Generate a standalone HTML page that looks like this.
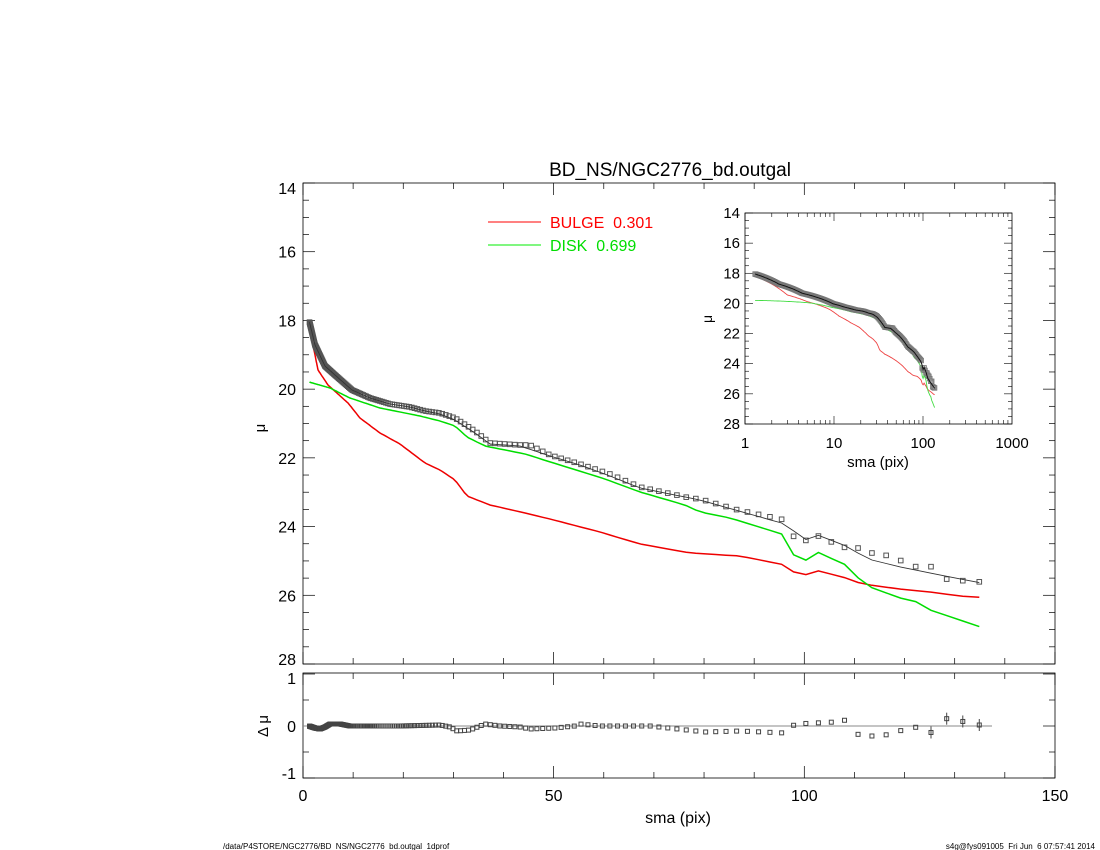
<!DOCTYPE html><html><head><meta charset="utf-8"><style>body{margin:0;background:#fff}svg{display:block}text{font-family:"Liberation Sans",sans-serif}</style></head><body>
<svg id="s" width="1100" height="850" xmlns="http://www.w3.org/2000/svg">
<text x="670" y="176" font-size="19" text-anchor="middle">BD_NS/NGC2776_bd.outgal</text>
<line x1="488" y1="222" x2="541" y2="222" stroke="#f00" stroke-width="1"/>
<text x="550" y="228" font-size="16" fill="#f00" xml:space="preserve">BULGE  0.301</text>
<line x1="488" y1="245" x2="541" y2="245" stroke="#0e0" stroke-width="1"/>
<text x="550" y="251" font-size="16" fill="#0d0" xml:space="preserve">DISK  0.699</text>
<text x="678" y="823" font-size="16" text-anchor="middle">sma (pix)</text>
<text x="223" y="849" font-size="8">/data/P4STORE/NGC2776/BD_NS/NGC2776_bd.outgal_1dprof</text>
<text x="1095" y="849" font-size="8" text-anchor="end" xml:space="preserve">s4g@fys091005  Fri Jun  6 07:57:41 2014</text>
<text x="265" y="428" font-size="15" transform="rotate(-90 265 428)" text-anchor="middle">μ</text>
<text x="268" y="726" font-size="15" transform="rotate(-90 268 726)" text-anchor="middle">Δ μ</text>
<text x="878" y="467" font-size="15" text-anchor="middle">sma (pix)</text>
<text x="712" y="319" font-size="14" transform="rotate(-90 712 319)" text-anchor="middle">μ</text>
<g id="g"></g>
</svg>
<script>
const g=document.getElementById('g');let h='';
function interp(k,x){if(x<=k[0][0])return k[0][1];for(let i=1;i<k.length;i++)if(x<=k[i][0]){const a=k[i-1],b=k[i];return a[1]+(b[1]-a[1])*(x-a[0])/(b[0]-a[0]);}return k[k.length-1][1];}
const T=[[309,320],[315,345],[325,366],[335,375],[352,390],[370,398],[390,404],[410,407],[425,411],[440,413],[455,418],[475,431],[490,443],[520,445],[530,445],[550,455],[580,464],[610,474],[640,487],[690,498],[700,499],[738,510],[785,520],[795,539],[805,541],[815,534],[825,540],[835,543],[846,548],[856,547],[868,553],[879,553],[891,557],[902,561],[914,567],[927,564],[939,572],[952,584],[965,580],[978,582],[992,580]];
const M=[[309,320],[315,345],[325,366],[335,375],[352,390],[370,398],[390,404],[410,407],[425,411],[440,414],[455,420],[475,433],[490,444],[520,446],[550,456],[580,465],[610,476],[640,488],[700,500],[785,524],[805,540],[815,534],[846,546],[868,559],[900,567],[950,577],[992,585]];
const G=[[309,382],[330,388],[350,398],[380,408],[420,416],[440,421],[455,426],[467,437],[485,446],[525,454],[560,465],[605,479],[640,492],[685,505],[700,512],[730,518],[785,535],[795,558],[805,561],[815,551],[846,565],[862,582],[870,587],[900,598],[913,600],[930,610],[960,620],[992,631]];
const Rd=[[309,325],[318,370],[328,385],[348,403],[360,418],[380,433],[400,444],[425,463],[440,470],[455,480],[467,496],[490,505],[525,513],[550,519],[600,532],[640,544],[690,553],[740,556],[785,565],[795,573],[805,575],[815,570],[846,578],[862,584],[900,589],[930,592],[960,596],[992,598]];
const Res=[[309,726],[315,728],[320,729],[325,727],[330,724],[340,724],[350,726],[400,726],[440,725],[450,727],[457,731],[470,730],[485,724],[500,726],[520,727],[530,729],[555,728],[575,726],[580,724],[600,726],[650,726],[705,732],[740,731],[785,733],[795,724],[815,723],[835,722],[846,720],[856,734],[868,736],[879,736],[891,734],[914,726],[927,736],[952,714],[965,723],[978,724],[992,735]];
const xs=[];for(let s=1.3;s<=137.5;s*=1.025)xs.push(303+s*5.013);
const Y0=183,YS=(664-183)/14;
function axes(x0,y0,x1,y1){h+=`<rect x="${x0}" y="${y0}" width="${x1-x0}" height="${y1-y0}" fill="none" stroke="#000" stroke-width="0.8"/>`;}
axes(303,183,1055,664);axes(303,673,1055,778);
for(let v=0;v<=150;v+=10){const x=303+v*5.013,L=v%50?6:12;for(const[a,b]of[[183,1],[664,-1],[673,1],[778,-1]])h+=`<line x1="${x}" y1="${a}" x2="${x}" y2="${a+b*L}" stroke="#000" stroke-width="0.7"/>`;if(v%50==0)h+=`<text x="${x}" y="801" font-size="16" text-anchor="middle">${v}</text>`;}
for(let m=14;m<=28;m+=0.5){const y=Y0+(m-14)*YS,L=m%2?6:12;h+=`<line x1="303" y1="${y}" x2="${303+L}" y2="${y}" stroke="#000" stroke-width="0.7"/><line x1="1055" y1="${y}" x2="${1055-L}" y2="${y}" stroke="#000" stroke-width="0.7"/>`;if(m%2==0){const ly=m==28?y+1:m==14?y+11:y+6;h+=`<text x="296" y="${ly}" font-size="16" text-anchor="end">${m}</text>`;}}
const RY=r=>726-r*52;
for(let r=-1;r<=1;r+=0.5){const y=RY(r),L=r%1?6:12;h+=`<line x1="303" y1="${y}" x2="${303+L}" y2="${y}" stroke="#000" stroke-width="0.7"/><line x1="1055" y1="${y}" x2="${1055-L}" y2="${y}" stroke="#000" stroke-width="0.7"/>`;if(r%1==0){const ly=r==1?y+10:r==-1?y+1:y+6;h+=`<text x="296" y="${ly}" font-size="16" text-anchor="end">${r}</text>`;}}
h+=`<line x1="303" y1="726" x2="992" y2="726" stroke="#888" stroke-width="1"/>`;
function ppath(k,col,w){let d='';xs.forEach((x,i)=>{d+=(i?'L':'M')+x.toFixed(1)+','+interp(k,x).toFixed(1);});h+=`<path d="${d}" fill="none" stroke="${col}" stroke-width="${w}"/>`;}
ppath(Rd,'#e00',1.5);ppath(G,'#0d0',1.5);
xs.forEach((x,i)=>{const y=interp(T,x);h+=`<rect x="${x-2.3}" y="${y-2.3}" width="4.6" height="4.6" fill="none" stroke="#555" stroke-width="1"/>`;const ry=interp(Res,x);h+=`<rect x="${x-2}" y="${ry-2}" width="4" height="4" fill="none" stroke="#444" stroke-width="1"/>`;if(i>=xs.length-4)h+=`<line x1="${x}" y1="${ry-6}" x2="${x}" y2="${ry+6}" stroke="#444"/>`;});
ppath(M,'#333',0.9);
const IX=s=>745+Math.log10(s)*89, IY=m=>213+(m-14)*15.07;
const toS=x=>(x-303)/5.013, toM=y=>14+(y-Y0)/YS;
axes(745,213,1012,424);
for(let d=0;d<3;d++)for(let k=1;k<10;k++){const x=IX(k*Math.pow(10,d)),L=k==1?8:4;h+=`<line x1="${x}" y1="213" x2="${x}" y2="${213+L}" stroke="#000" stroke-width="0.6"/><line x1="${x}" y1="424" x2="${x}" y2="${424-L}" stroke="#000" stroke-width="0.6"/>`;}
[1,10,100,1000].forEach(v=>h+=`<text x="${IX(v)}" y="448" font-size="15" text-anchor="middle">${v}</text>`);
for(let m=14;m<=28;m+=0.5){const y=IY(m),L=m%2?4:8;h+=`<line x1="745" y1="${y}" x2="${745+L}" y2="${y}" stroke="#000" stroke-width="0.6"/><line x1="1012" y1="${y}" x2="${1012-L}" y2="${y}" stroke="#000" stroke-width="0.6"/>`;if(m%2==0)h+=`<text x="740" y="${y+5}" font-size="15" text-anchor="end">${m}</text>`;}
function ipath(k,col,w){let d='';xs.forEach((x,i)=>{d+=(i?'L':'M')+IX(toS(x)).toFixed(1)+','+IY(toM(interp(k,x))).toFixed(1);});h+=`<path d="${d}" fill="none" stroke="${col}" stroke-width="${w}"/>`;}
ipath(Rd,'#e44',0.9);ipath(G,'#4d4',0.9);
xs.forEach(x=>{const X=IX(toS(x)),Y=IY(toM(interp(T,x)));h+=`<rect x="${X-2.3}" y="${Y-2.3}" width="4.6" height="4.6" fill="#888" fill-opacity="0.4" stroke="#777" stroke-width="0.8"/>`;});
ipath(M,'#111',1);
g.innerHTML=h;
</script>
</body></html>
